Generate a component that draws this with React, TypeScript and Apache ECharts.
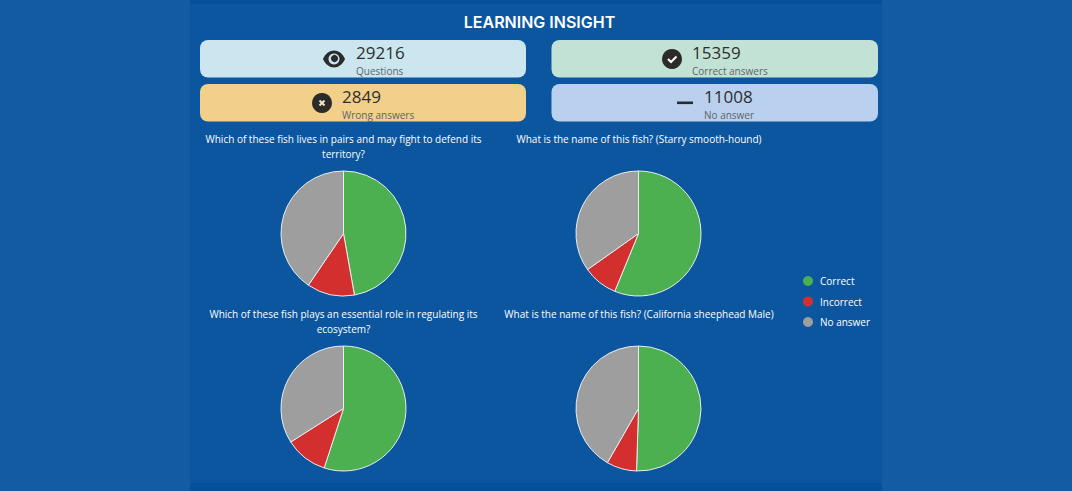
import React, { useEffect, useRef } from "react";
import * as echarts from "echarts";

const headline = "LEARNING INSIGHT";
const statValues = ["29216", "15359", "2849", "11008"];
const statLabels = ["Questions", "Correct answers", "Wrong answers", "No answer"];
const sliceNames = ["Correct", "Incorrect", "No answer"];
const sliceColors = ["#4caf50", "#d32f2f", "#9e9e9e"];
const pieTitles = [
  "Which of these fish lives in pairs and may fight to defend its\nterritory?",
  "What is the name of this fish? (Starry smooth-hound)",
  "Which of these fish plays an essential role in regulating its\necosystem?",
  "What is the name of this fish? (California sheephead Male)",
];
const pie1 = [47.2, 12.3, 40.5];
const pie2 = [56.2, 9, 34.8];
const pie3 = [55, 11, 34];
const pie4 = [50.5, 7.8, 41.7];
const pies = [pie1, pie2, pie3, pie4];

echarts.graphic.registerShape(
  "eyeShape",
  echarts.graphic.extendPath("M0 8 C 5 -3.3, 17 -3.3, 22 8 C 17 19.3, 5 19.3, 0 8 Z", {})
);

const DARK = "#2b2b2b";
const cards = [
  { x: 200, y: 40, w: 326, color: "#cbe6ef", tx: 356 },
  { x: 551.5, y: 40, w: 326.5, color: "#c3e2d6", tx: 692 },
  { x: 200, y: 84, w: 326, color: "#f2d08a", tx: 342 },
  { x: 551.5, y: 84, w: 326.5, color: "#b9d1ee", tx: 704 },
];
const pieCenters = [
  [343.5, 233.5],
  [638.5, 233.5],
  [343.5, 408.5],
  [638.5, 408.5],
];
const titleCenters = [
  [338.5, 126],
  [634, 126],
  [338.5, 301],
  [634, 301],
];

function icons(): any[] {
  return [
    { type: "eyeShape", x: 323, y: 51, style: { fill: DARK } },
    { type: "circle", shape: { cx: 334, cy: 59, r: 5.5 }, style: { fill: "#cbe6ef" } },
    { type: "circle", shape: { cx: 334.5, cy: 58.5, r: 3.6 }, style: { fill: DARK } },
    { type: "circle", shape: { cx: 672, cy: 59, r: 10 }, style: { fill: DARK } },
    {
      type: "polyline",
      shape: { points: [[668, 59], [671, 62], [676.5, 56.5]] },
      style: { stroke: "#ffffff", lineWidth: 2, fill: "none" },
    },
    { type: "circle", shape: { cx: 322, cy: 103, r: 10 }, style: { fill: DARK } },
    { type: "line", shape: { x1: 319.5, y1: 100.5, x2: 324.5, y2: 105.5 }, style: { stroke: "#f2e4c4", lineWidth: 2 } },
    { type: "line", shape: { x1: 324.5, y1: 100.5, x2: 319.5, y2: 105.5 }, style: { stroke: "#f2e4c4", lineWidth: 2 } },
    { type: "rect", shape: { x: 677, y: 101.5, width: 16, height: 2.6 }, style: { fill: DARK } },
  ];
}

export default function App() {
  const ref = useRef<HTMLDivElement>(null);
  useEffect(() => {
    const chart = echarts.init(ref.current!, null, { renderer: "svg" });
    const FONT = "'Open Sans', sans-serif";
    const cardEls: any[] = [];
    cards.forEach((c, i) => {
      cardEls.push({
        type: "rect",
        shape: { x: c.x, y: c.y, width: c.w, height: 37.5, r: 8 },
        style: { fill: c.color },
      });
      cardEls.push({
        type: "text",
        x: c.tx,
        y: c.y + 12.5,
        style: { text: statValues[i], fill: "#2e2e2e", font: `17px ${FONT}`, textVerticalAlign: "middle", textAlign: "left" },
      });
      cardEls.push({
        type: "text",
        x: c.tx,
        y: c.y + 31,
        style: { text: statLabels[i], fill: "#5c6468", font: `10px ${FONT}`, textVerticalAlign: "middle", textAlign: "left" },
      });
    });
    chart.setOption({
      animation: false,
      backgroundColor: "#135ca3",
      color: sliceColors,
      title: pieTitles.map((t, i) => ({
        text: t,
        left: titleCenters[i][0],
        top: titleCenters[i][1],
        textAlign: "center",
        textStyle: { color: "#ffffff", fontFamily: FONT, fontSize: 10, fontWeight: "normal", lineHeight: 15 },
      })),
      legend: {
        orient: "vertical",
        left: 798,
        top: 271,
        icon: "circle",
        itemWidth: 10,
        itemHeight: 10,
        itemGap: 10.5,
        data: sliceNames,
        itemStyle: { borderWidth: 0 },
        textStyle: { color: "#ffffff", fontFamily: FONT, fontSize: 10, padding: [0, 0, 0, 2] },
      },
      graphic: [
        { type: "rect", z: -1, shape: { x: 190, y: 0, width: 692, height: 491 }, style: { fill: "#0b569f" } },
        { type: "rect", z: -1, shape: { x: 190, y: 0, width: 692, height: 4 }, style: { fill: "#064f99" } },
        { type: "rect", z: -1, shape: { x: 190, y: 483, width: 692, height: 8 }, style: { fill: "#064f99" } },
        {
          type: "text",
          x: 539.5,
          y: 22,
          style: { text: headline, fill: "#ffffff", font: `600 16px Inter, sans-serif`, textAlign: "center", textVerticalAlign: "middle" },
        },
        ...cardEls,
        ...icons(),
      ],
      series: pies.map((vals, i) => ({
        type: "pie",
        center: pieCenters[i],
        radius: 62.5,
        startAngle: 90,
        clockwise: true,
        label: { show: false },
        labelLine: { show: false },
        silent: true,
        itemStyle: { borderColor: "#e8eef2", borderWidth: 1 },
        data: vals.map((v, k) => ({ name: sliceNames[k], value: v })),
      })),
    });
    return () => chart.dispose();
  }, []);
  return <div ref={ref} style={{ position: "fixed", left: 0, top: 0, width: 1072, height: 491 }} />;
}
